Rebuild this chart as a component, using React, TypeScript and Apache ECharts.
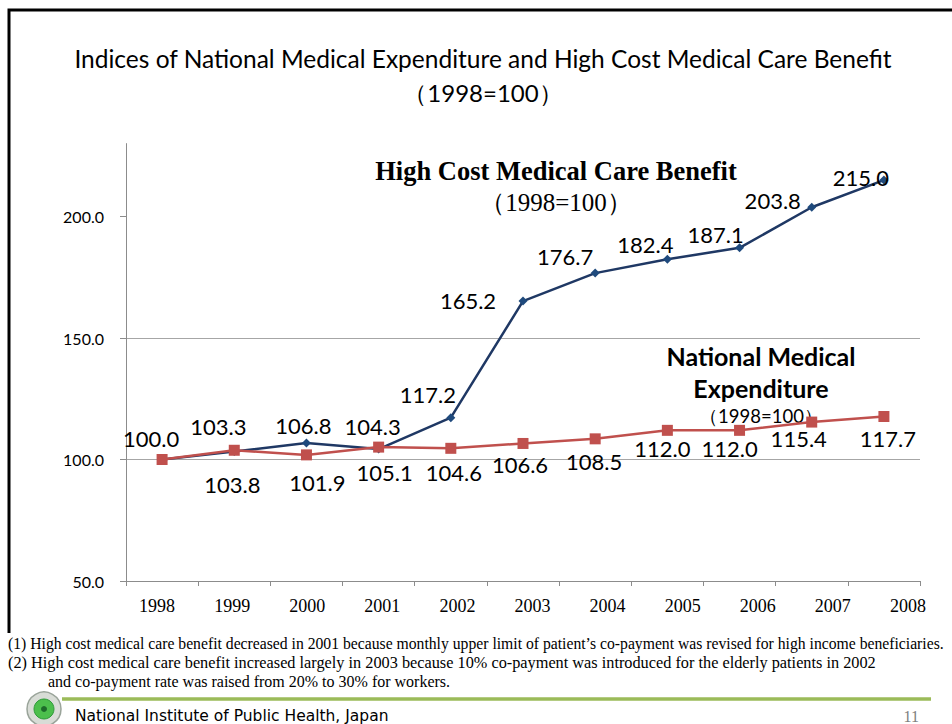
import React, { useEffect, useRef } from "react";
import * as echarts from "echarts";

const years = ["1998", "1999", "2000", "2001", "2002", "2003", "2004", "2005", "2006", "2007", "2008"];
const highCost = [100.0, 103.3, 106.8, 104.3, 117.2, 165.2, 176.7, 182.4, 187.1, 203.8, 215.0];
const national = [100.0, 103.8, 101.9, 105.1, 104.6, 106.6, 108.5, 112.0, 112.0, 115.4, 117.7];
const yTicks = [50, 100, 150, 200];

// label offsets (px) relative to each marker — styling only
const highCostLabelOffsets = [
  [-11, -21], [-16, -25], [-3, -17], [-6, -23], [-23, -23], [-55, -1],
  [-30, -17], [-22, -15], [-24, -13], [-39, -7], [-23, -3],
];
const nationalLabelOffsets = [
  null, [-2, 34], [11, 28], [6, 25], [3, 24], [-3, 21],
  [-1, 23], [-5, 18], [-10, 18], [-13, 16], [4, 22],
];

const SANS = "Lato, 'Noto Sans', sans-serif";
const SERIF = "'Liberation Serif', 'DejaVu Serif', serif";

export default function App() {
  const ref = useRef<HTMLDivElement>(null);
  useEffect(() => {
    if (!ref.current) return;
    const chart = echarts.init(ref.current, null, { renderer: "svg" });
    const labelStyle = { fontFamily: SANS, fontSize: 22, color: "#000" };
    const blueData = highCost.map((v, i) => ({
      value: v,
      label: {
        show: true,
        position: "inside",
        offset: highCostLabelOffsets[i],
        formatter: (p: any) => Number(p.value).toFixed(1),
        ...labelStyle,
      },
    }));
    const redData = national.map((v, i) => ({
      value: v,
      label: nationalLabelOffsets[i]
        ? {
            show: true,
            position: "inside",
            offset: nationalLabelOffsets[i],
            formatter: (p: any) => Number(p.value).toFixed(1),
            ...labelStyle,
          }
        : { show: false },
    }));
    chart.setOption({
      animation: false,
      backgroundColor: "#ffffff",
      grid: [
        { left: 126, right: 32, top: 143.6, bottom: 143 },
        { left: 119.5, right: 6.5, top: 143.6, bottom: 143 },
      ],
      xAxis: [
        {
          type: "category",
          gridIndex: 0,
          data: years,
          boundaryGap: true,
          axisLine: { lineStyle: { color: "#8c8c8c", width: 1 } },
          axisTick: { show: true, interval: 0, length: 5, lineStyle: { color: "#8c8c8c" } },
          axisLabel: { show: false },
        },
        {
          type: "category",
          gridIndex: 1,
          data: years,
          boundaryGap: true,
          axisLine: { show: false },
          axisTick: { show: false },
          axisLabel: { show: true, interval: 0, margin: 16, fontFamily: SERIF, fontSize: 18, color: "#000" },
        },
      ],
      yAxis: [
        {
          type: "value",
          gridIndex: 0,
          min: 50,
          max: 230,
          interval: 50,
          axisLine: { show: true, lineStyle: { color: "#8c8c8c", width: 1 } },
          axisTick: { show: true, length: 6, customValues: yTicks, lineStyle: { color: "#8c8c8c" } },
          axisLabel: {
            customValues: yTicks,
            margin: 22,
            fontFamily: SANS,
            fontSize: 16,
            color: "#000",
            formatter: (v: number) => v.toFixed(1),
          },
          splitLine: { show: true, showMaxLine: false, lineStyle: { color: "#a6a6a6", width: 1 } },
        },
        { type: "value", gridIndex: 1, show: false, min: 50, max: 230 },
      ],
      series: [
        {
          name: "High Cost Medical Care Benefit",
          type: "line",
          xAxisIndex: 0,
          yAxisIndex: 0,
          data: blueData,
          symbol: "diamond",
          symbolSize: 9,
          lineStyle: { color: "#1f3864", width: 2.5 },
          itemStyle: { color: "#1f4a7d" },
          z: 2,
        },
        {
          name: "National Medical Expenditure",
          type: "line",
          xAxisIndex: 0,
          yAxisIndex: 0,
          data: redData,
          symbol: "rect",
          symbolSize: 11,
          lineStyle: { color: "#c0504d", width: 2.5 },
          itemStyle: { color: "#c0504d" },
          z: 3,
        },
      ],
      graphic: [
        { type: "polyline", shape: { points: [[9, 633], [9, 10], [952, 10]] }, style: { stroke: "#000", lineWidth: 3, fill: null } },
        {
          type: "text", x: 483, y: 58,
          style: { text: "Indices of National Medical Expenditure and High Cost Medical Care Benefit", fontFamily: SANS, fontSize: 24.5, fill: "#000", align: "center", verticalAlign: "middle" },
        },
        {
          type: "text", x: 483, y: 92,
          style: { text: "（1998=100）", fontFamily: SANS, fontSize: 24, fill: "#000", align: "center", verticalAlign: "middle" },
        },
        {
          type: "text", x: 556, y: 171,
          style: { text: "High Cost Medical Care Benefit", fontFamily: SERIF, fontWeight: "bold", fontSize: 26.5, fill: "#000", align: "center", verticalAlign: "middle" },
        },
        {
          type: "text", x: 556, y: 202,
          style: { text: "（1998=100）", fontFamily: SERIF, fontSize: 25, fill: "#000", align: "center", verticalAlign: "middle" },
        },
        {
          type: "text", x: 761, y: 356,
          style: { text: "National Medical", fontFamily: SANS, fontWeight: "bold", fontSize: 25, fill: "#000", align: "center", verticalAlign: "middle" },
        },
        {
          type: "text", x: 761, y: 388,
          style: { text: "Expenditure", fontFamily: SANS, fontWeight: "bold", fontSize: 25, fill: "#000", align: "center", verticalAlign: "middle" },
        },
        {
          type: "text", x: 761, y: 416,
          style: { text: "（1998=100）", fontFamily: SANS, fontSize: 18.5, fill: "#000", align: "center", verticalAlign: "middle" },
        },
        {
          type: "text", x: 8, y: 643,
          style: { text: "(1) High cost medical care benefit decreased in 2001 because monthly upper limit of patient’s co-payment was revised for high income beneficiaries.", fontFamily: SERIF, fontSize: 15.7, fill: "#000", align: "left", verticalAlign: "middle" },
        },
        {
          type: "text", x: 8, y: 662,
          style: { text: "(2) High cost medical care benefit increased largely in 2003 because 10% co-payment was introduced for the elderly patients in 2002", fontFamily: SERIF, fontSize: 16.3, fill: "#000", align: "left", verticalAlign: "middle" },
        },
        {
          type: "text", x: 48, y: 681,
          style: { text: "and co-payment rate was raised from 20% to 30% for workers.", fontFamily: SERIF, fontSize: 16, fill: "#000", align: "left", verticalAlign: "middle" },
        },
        { type: "line", shape: { x1: 62, y1: 699, x2: 931, y2: 699 }, style: { stroke: "#9bbb59", lineWidth: 3.5 } },
        { type: "circle", shape: { cx: 44, cy: 709, r: 17 }, style: { fill: "#d8dcd6", stroke: "#9aa49a", lineWidth: 1.5 } },
        { type: "circle", shape: { cx: 44, cy: 709, r: 10 }, style: { fill: "#4cbf4c", stroke: "#2f9a3a", lineWidth: 1 } },
        { type: "circle", shape: { cx: 44, cy: 709, r: 3 }, style: { fill: "#1d6b2a" } },
        {
          type: "text", x: 75, y: 716,
          style: { text: "National Institute of Public Health, Japan", fontFamily: "'DejaVu Sans', sans-serif", fontSize: 15.5, fill: "#000", align: "left", verticalAlign: "middle" },
        },
        {
          type: "text", x: 919, y: 716,
          style: { text: "11", fontFamily: SERIF, fontSize: 16, fill: "#808080", align: "right", verticalAlign: "middle" },
        },
      ],
    });
    return () => chart.dispose();
  }, []);
  return (
    <div
      ref={ref}
      style={{ position: "absolute", left: 0, top: 0, width: 952, height: 724, background: "#fff" }}
    />
  );
}
